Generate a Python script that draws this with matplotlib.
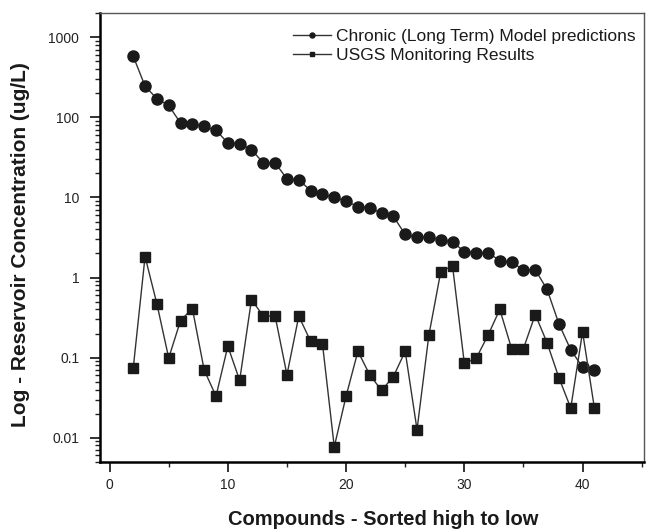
import matplotlib
matplotlib.use('Agg')
import matplotlib.pyplot as plt
from matplotlib.ticker import MultipleLocator, LogLocator, NullFormatter

plt.rcParams['font.family'] = ['Liberation Sans', 'DejaVu Sans']

# compound index (sorted high to low)
compounds = list(range(2, 42))

# Chronic (long term) model predictions, ug/L
chronic = [580, 246, 171, 141, 85, 82, 77, 69, 48, 47,
           39.5, 27, 27, 17.1, 16.6, 12.2, 10.9, 10.1, 9.0, 7.7,
           7.4, 6.4, 5.8, 3.45, 3.2, 3.2, 2.96, 2.79, 2.11, 2.04,
           2.04, 1.63, 1.55, 1.25, 1.25, 0.71, 0.264, 0.125, 0.076, 0.071]

# USGS monitoring results, ug/L
usgs = [0.074, 1.83, 0.47, 0.099, 0.29, 0.41, 0.070, 0.033, 0.139, 0.052,
        0.53, 0.33, 0.33, 0.061, 0.33, 0.16, 0.15, 0.0077, 0.033, 0.12,
        0.061, 0.039, 0.058, 0.12, 0.0126, 0.19, 1.17, 1.41, 0.085, 0.098,
        0.19, 0.40, 0.129, 0.13, 0.345, 0.153, 0.056, 0.0235, 0.21, 0.0235]

ytick_vals = [0.01, 0.1, 1, 10, 100, 1000]
ytick_labels = ['0.01', '0.1', '1', '10', '100', '1000']

fig = plt.figure(figsize=(6.46, 5.29), dpi=100)
ax = fig.add_axes([0.155, 0.127, 0.842, 0.848])

ax.plot(compounds, chronic, color='#333333', linewidth=1.0, marker='o',
        markersize=8, markerfacecolor='#1a1a1a', markeredgecolor='#1a1a1a',
        label='Chronic (Long Term) Model predictions')
ax.plot(compounds, usgs, color='#333333', linewidth=1.0, marker='s',
        markersize=7.5, markerfacecolor='#1a1a1a', markeredgecolor='#1a1a1a',
        label='USGS Monitoring Results')

ax.set_yscale('log')
ax.set_ylim(0.005, 2000)
ax.set_xlim(-0.8, 45.2)
ax.set_yticks(ytick_vals)
ax.set_yticklabels(ytick_labels)
ax.yaxis.set_minor_locator(LogLocator(base=10, subs=range(2, 10)))
ax.yaxis.set_minor_formatter(NullFormatter())
ax.xaxis.set_major_locator(MultipleLocator(10))
ax.xaxis.set_minor_locator(MultipleLocator(5))

ax.tick_params(which='major', direction='out', length=7, width=1.3,
               labelsize=10, color='#222222', labelcolor='#222222', pad=5)
ax.tick_params(axis='y', which='major', pad=8)
ax.tick_params(which='minor', direction='out', length=3.5, width=1.0,
               color='#222222')
for side in ['left', 'bottom']:
    ax.spines[side].set_linewidth(1.8)
for side in ['top', 'right']:
    ax.spines[side].set_linewidth(1.0)
    ax.spines[side].set_color('#555555')

ax.set_xlabel('Compounds - Sorted high to low', fontsize=14.5,
              fontweight='bold', color='#1a1a1a', va='center')
ax.xaxis.set_label_coords(0.521, -0.129)
ax.set_ylabel('Log - Reservoir Concentration (ug/L)', fontsize=15,
              fontweight='bold', color='#1a1a1a', va='center')
ax.yaxis.set_label_coords(-0.147, 0.484)

leg = ax.legend(loc='upper right', frameon=False, fontsize=12.5,
                markerscale=0.45, handlelength=2.2, handletextpad=0.3,
                labelspacing=0.2, borderaxespad=0.0,
                bbox_to_anchor=(0.998, 0.98))
for t in leg.get_texts():
    t.set_color('#1a1a1a')

fig.savefig('out.png', dpi=100)
